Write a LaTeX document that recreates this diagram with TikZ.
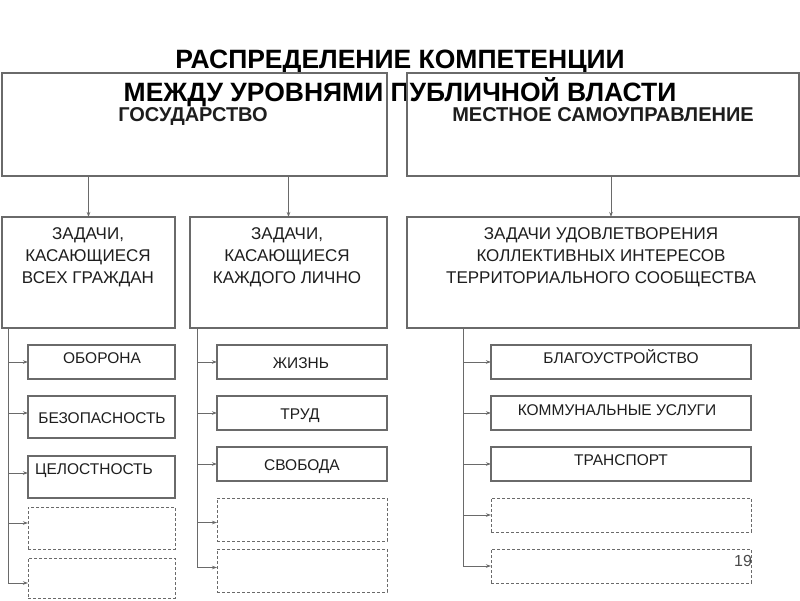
\documentclass[tikz,border=0pt]{standalone}
\usepackage{fontspec}
\setmainfont{Liberation Sans}
\usetikzlibrary{arrows.meta}
\definecolor{ln}{HTML}{6A6A6A}
\definecolor{tx}{HTML}{1E1E1E}
\tikzset{
  box/.style={draw=ln, line width=1.2pt, rectangle, anchor=north west, inner sep=0pt, outer sep=0pt},
  dbox/.style={box, dash pattern=on 3pt off 2pt, line width=0.9pt},
  lbl/.style={text=tx, inner sep=0pt, anchor=base},
  ttl/.style={lbl, font=\fontsize{26.5}{30}\selectfont\bfseries, text=black},
  hdr/.style={lbl, font=\fontsize{20}{23}\selectfont\bfseries},
  mid/.style={lbl, font=\fontsize{17}{22}\selectfont, align=center},
  item/.style={lbl, font=\fontsize{15.5}{18}\selectfont},
  arr/.style={draw=ln, line width=1pt, -{Stealth[length=5pt,width=3.5pt]}},
}
\begin{document}
\begin{tikzpicture}[x=1pt,y=-1pt]
\path[use as bounding box, fill=white] (0,0) rectangle (800,600);
% title
\node[ttl] (t1l) at (400,68) {РАСПРЕДЕЛЕНИЕ КОМПЕТЕНЦИИ};
\node[ttl] (t2l) at (400,101) {МЕЖДУ УРОВНЯМИ ПУБЛИЧНОЙ ВЛАСТИ};
% top boxes
\node[box, minimum width=385pt, minimum height=103pt] (g) at (2,73) {};
\node[box, minimum width=392pt, minimum height=103pt] (m) at (407,73) {};
\node[hdr] (gt) at (193,121) {ГОСУДАРСТВО};
\node[hdr] (mt) at (603,121) {МЕСТНОЕ САМОУПРАВЛЕНИЕ};
% second row
\node[box, minimum width=173pt, minimum height=111pt] (a) at (2,217) {};
\node[box, minimum width=197pt, minimum height=111pt] (b) at (190,217) {};
\node[box, minimum width=392pt, minimum height=111pt] (c) at (407,217) {};
\node[mid] (at) at (88,283) {ЗАДАЧИ,\\КАСАЮЩИЕСЯ\\ВСЕХ ГРАЖДАН};
\node[mid] (bt) at (287,283) {ЗАДАЧИ,\\КАСАЮЩИЕСЯ\\КАЖДОГО ЛИЧНО};
\node[mid] (ct) at (601,283) {ЗАДАЧИ УДОВЛЕТВОРЕНИЯ\\КОЛЛЕКТИВНЫХ ИНТЕРЕСОВ\\ТЕРРИТОРИАЛЬНОГО СООБЩЕСТВА};
\draw[arr] (a.north |- g.south) -- (a.north);
\draw[arr] (b.north |- g.south) -- (b.north);
\draw[arr] ([xshift=8pt]m.south) -- ([xshift=8pt]c.north);
% left column
\node[box, minimum width=147pt, minimum height=34pt] (a1) at (28,345) {};
\node[box, minimum width=147pt, minimum height=42pt] (a2) at (28,396) {};
\node[box, minimum width=147pt, minimum height=42pt] (a3) at (28,456) {};
\node[dbox, minimum width=147pt, minimum height=42pt] (a4) at (28,507) {};
\node[dbox, minimum width=147pt, minimum height=40pt] (a5) at (28,558) {};
\node[item] (a1t) at (102,363) {ОБОРОНА};
\node[item] (a2t) at (102,423) {БЕЗОПАСНОСТЬ};
\node[item] (a3t) at (94,474) {ЦЕЛОСТНОСТЬ};
\coordinate (av) at ([xshift=6pt]a.south west);
\draw[draw=ln, line width=1pt] (av) -- ++(0,256);
\draw[arr] (av) |- ([yshift=0pt]a1.west);
\draw[arr] (av) |- ([yshift=4pt]a2.west);
\draw[arr] (av) |- ([yshift=4pt]a3.west);
\draw[arr] (av) |- ([yshift=5pt]a4.west);
\draw[arr] (av) |- ([yshift=-5pt]a5.west);
% middle column
\node[box, minimum width=170pt, minimum height=34pt] (b1) at (217,345) {};
\node[box, minimum width=170pt, minimum height=34pt] (b2) at (217,396) {};
\node[box, minimum width=170pt, minimum height=34pt] (b3) at (217,447) {};
\node[dbox, minimum width=170pt, minimum height=43pt] (b4) at (217,498) {};
\node[dbox, minimum width=170pt, minimum height=43pt] (b5) at (217,549) {};
\node[item] (b1t) at (301,368) {ЖИЗНЬ};
\node[item] (b2t) at (300,419) {ТРУД};
\node[item] (b3t) at (302,470) {СВОБОДА};
\coordinate (bv) at ([xshift=7pt]b.south west);
\draw[draw=ln, line width=1pt] (bv) -- ++(0,239);
\draw[arr] (bv) |- (b1.west);
\draw[arr] (bv) |- (b2.west);
\draw[arr] (bv) |- (b3.west);
\draw[arr] (bv) |- ([yshift=-3pt]b4.west);
\draw[arr] (bv) |- ([yshift=3pt]b5.west);
% right column
\node[box, minimum width=260pt, minimum height=34pt] (c1) at (491,345) {};
\node[box, minimum width=260pt, minimum height=34pt] (c2) at (491,396) {};
\node[box, minimum width=260pt, minimum height=34pt] (c3) at (491,447) {};
\node[dbox, minimum width=260pt, minimum height=34pt] (c4) at (491,498) {};
\node[dbox, minimum width=260pt, minimum height=34pt] (c5) at (491,549) {};
\node[item] (c1t) at (621,363) {БЛАГОУСТРОЙСТВО};
\node[item] (c2t) at (617,415) {КОММУНАЛЬНЫЕ УСЛУГИ};
\node[item] (c3t) at (621,465) {ТРАНСПОРТ};
\coordinate (cv) at ([xshift=56pt]c.south west);
\draw[draw=ln, line width=1pt] (cv) -- ++(0,239);
\draw[arr] (cv) |- (c1.west);
\draw[arr] (cv) |- (c2.west);
\draw[arr] (cv) |- (c3.west);
\draw[arr] (cv) |- (c4.west);
\draw[arr] (cv) |- (c5.west);
\node[item, font=\fontsize{16}{18}\selectfont, text=ln!70!black] (pg) at (743,566) {19};
\end{tikzpicture}
\end{document}
